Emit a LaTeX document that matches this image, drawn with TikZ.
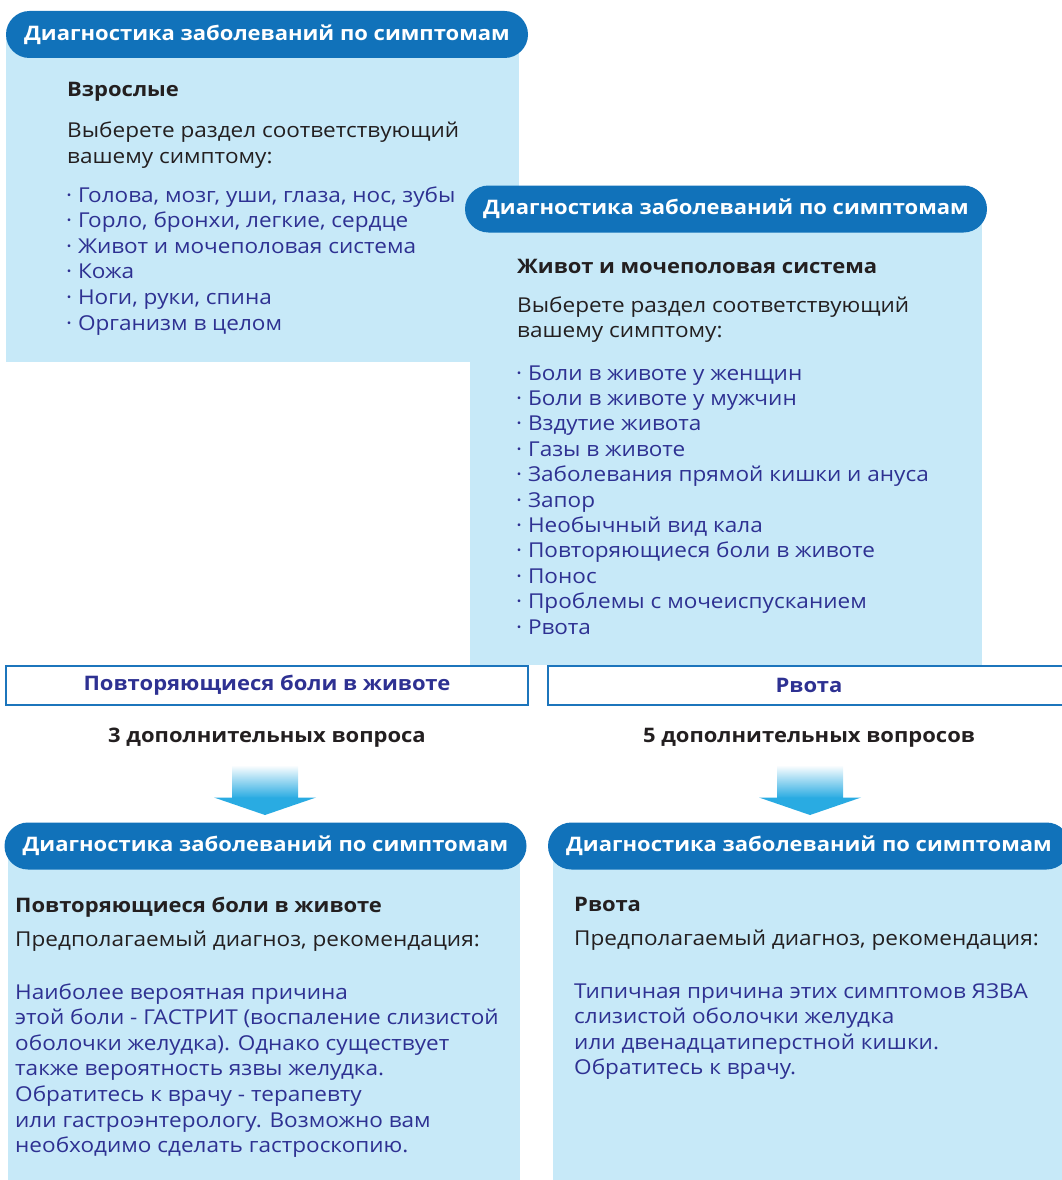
\documentclass[tikz,border=0pt]{standalone}
\usepackage{fontspec}
\setmainfont{Open Sans}[FakeStretch=1.1]
\usepackage{tikz}
\usetikzlibrary{positioning}
\definecolor{colorPill}{HTML}{1172BA}
\definecolor{colorPale}{HTML}{C7E9F8}
\definecolor{colorNavy}{HTML}{2E3192}
\definecolor{colorInk}{HTML}{231F20}
\definecolor{colorArrow}{HTML}{29ABE2}
\definecolor{colorFrame}{HTML}{1C75BC}
\newcommand\headfont{\fontsize{20}{24}\selectfont\bfseries}
\newcommand\bodyfont{\fontsize{20.5}{25.6}\selectfont}
\tikzset{
  pill/.style={fill=colorPill, rounded corners=23.5pt, text=white, font=\headfont,
    minimum width=522pt, minimum height=47pt, inner sep=0pt},
  tab/.style={draw=colorFrame, line width=2pt, fill=white, text=colorNavy, font=\headfont,
    minimum width=522pt, minimum height=39pt, inner sep=0pt},
  title/.style={anchor=base west, inner sep=0pt, text=colorInk, font=\headfont},
  plain/.style={anchor=base west, inner sep=0pt, text=colorInk, font=\bodyfont},
  item/.style={anchor=base west, inner sep=0pt, text=colorNavy, font=\bodyfont},
}

\begin{document}
\begin{tikzpicture}[x=1pt, y=-1pt]
        \useasboundingbox (0,0) rectangle (1062,1180);

        % adults
        \fill[colorPale] (6,35) rectangle (519,362);
        \node[pill] (head1) at (267,34.5) {Диагностика заболеваний по симптомам};
        \node[title] (adult) at (67,97) {Взрослые};
        \node[plain] (ask1a) at (67,138) {Выберете раздел соответствующий};
        \node[plain] (ask1b) at (67,163) {вашему симптому:};
        \foreach \t [count=\i] in {{Голова, мозг, уши, глаза, нос, зубы}, {Горло, бронхи, легкие, сердце},
            {Живот и мочеполовая система}, {Кожа}, {Ноги, руки, спина}, {Организм в целом}}
            \node[item] (part\i) at (66,{202+25.6*(\i-1)}) {· \t};

        % belly
        \fill[colorPale] (470,209) rectangle (982,665);
        \node[pill] (head2) at (726,209) {Диагностика заболеваний по симптомам};
        \node[title] (belly) at (517,273) {Живот и мочеполовая система};
        \node[plain] (ask2a) at (517,312) {Выберете раздел соответствующий};
        \node[plain] (ask2b) at (517,337) {вашему симптому:};
        \foreach \t [count=\i] in {{Боли в животе у женщин}, {Боли в животе у мужчин}, {Вздутие живота},
            {Газы в животе}, {Заболевания прямой кишки и ануса}, {Запор}, {Необычный вид кала},
            {Повторяющиеся боли в животе}, {Понос}, {Проблемы с мочеиспусканием}, {Рвота}}
            \node[item] (sym\i) at (516,{380+25.4*(\i-1)}) {· \t};

        % chosen symptoms
        \node[tab] (pick1) at (267,685.5) {Повторяющиеся боли в животе};
        \node[tab] (pick2) at (809,685.5) {Рвота};
        \node[anchor=base, inner sep=0pt, text=colorInk, font=\headfont] (more1) at (267,742) {3 дополнительных вопроса};
        \node[anchor=base, inner sep=0pt, text=colorInk, font=\headfont] (more2) at (809,742) {5 дополнительных вопросов};

        % arrows
        \foreach \c in {265,810} {
            \shade[top color=white, bottom color=colorArrow] (\c-33,765) rectangle (\c+33,798);
            \fill[colorArrow] (\c-51,797.5) -- (\c+51,797.5) -- (\c,815) -- cycle;
        }

        % answers
        \fill[colorPale] (8,846) rectangle (520,1180);
        \node[pill] (head3) at (265.5,846) {Диагностика заболеваний по симптомам};
        \node[title] (res1) at (15,912) {Повторяющиеся боли в животе};
        \node[plain] (diag1) at (15,946) {Предполагаемый диагноз, рекомендация:};
        \foreach \t [count=\i] in {{Наиболее вероятная причина}, {этой боли - ГАСТРИТ (воспаление слизистой},
            {оболочки желудка). Однако существует}, {также вероятность язвы желудка.},
            {Обратитесь к врачу - терапевту}, {или гастроэнтерологу. Возможно вам},
            {необходимо сделать гастроскопию.}}
            \node[item] (ans1\i) at (15,{999+25.6*(\i-1)}) {\t};

        \fill[colorPale] (553,846) rectangle (1062,1180);
        \node[pill] (head4) at (809,846) {Диагностика заболеваний по симптомам};
        \node[title] (res2) at (574,911) {Рвота};
        \node[plain] (diag2) at (574,945) {Предполагаемый диагноз, рекомендация:};
        \foreach \t [count=\i] in {{Типичная причина этих симптомов ЯЗВА}, {слизистой оболочки желудка},
            {или двенадцатиперстной кишки.}, {Обратитесь к врачу.}}
            \node[item] (ans2\i) at (574,{998+25.6*(\i-1)}) {\t};
    \end{tikzpicture}
\end{document}
